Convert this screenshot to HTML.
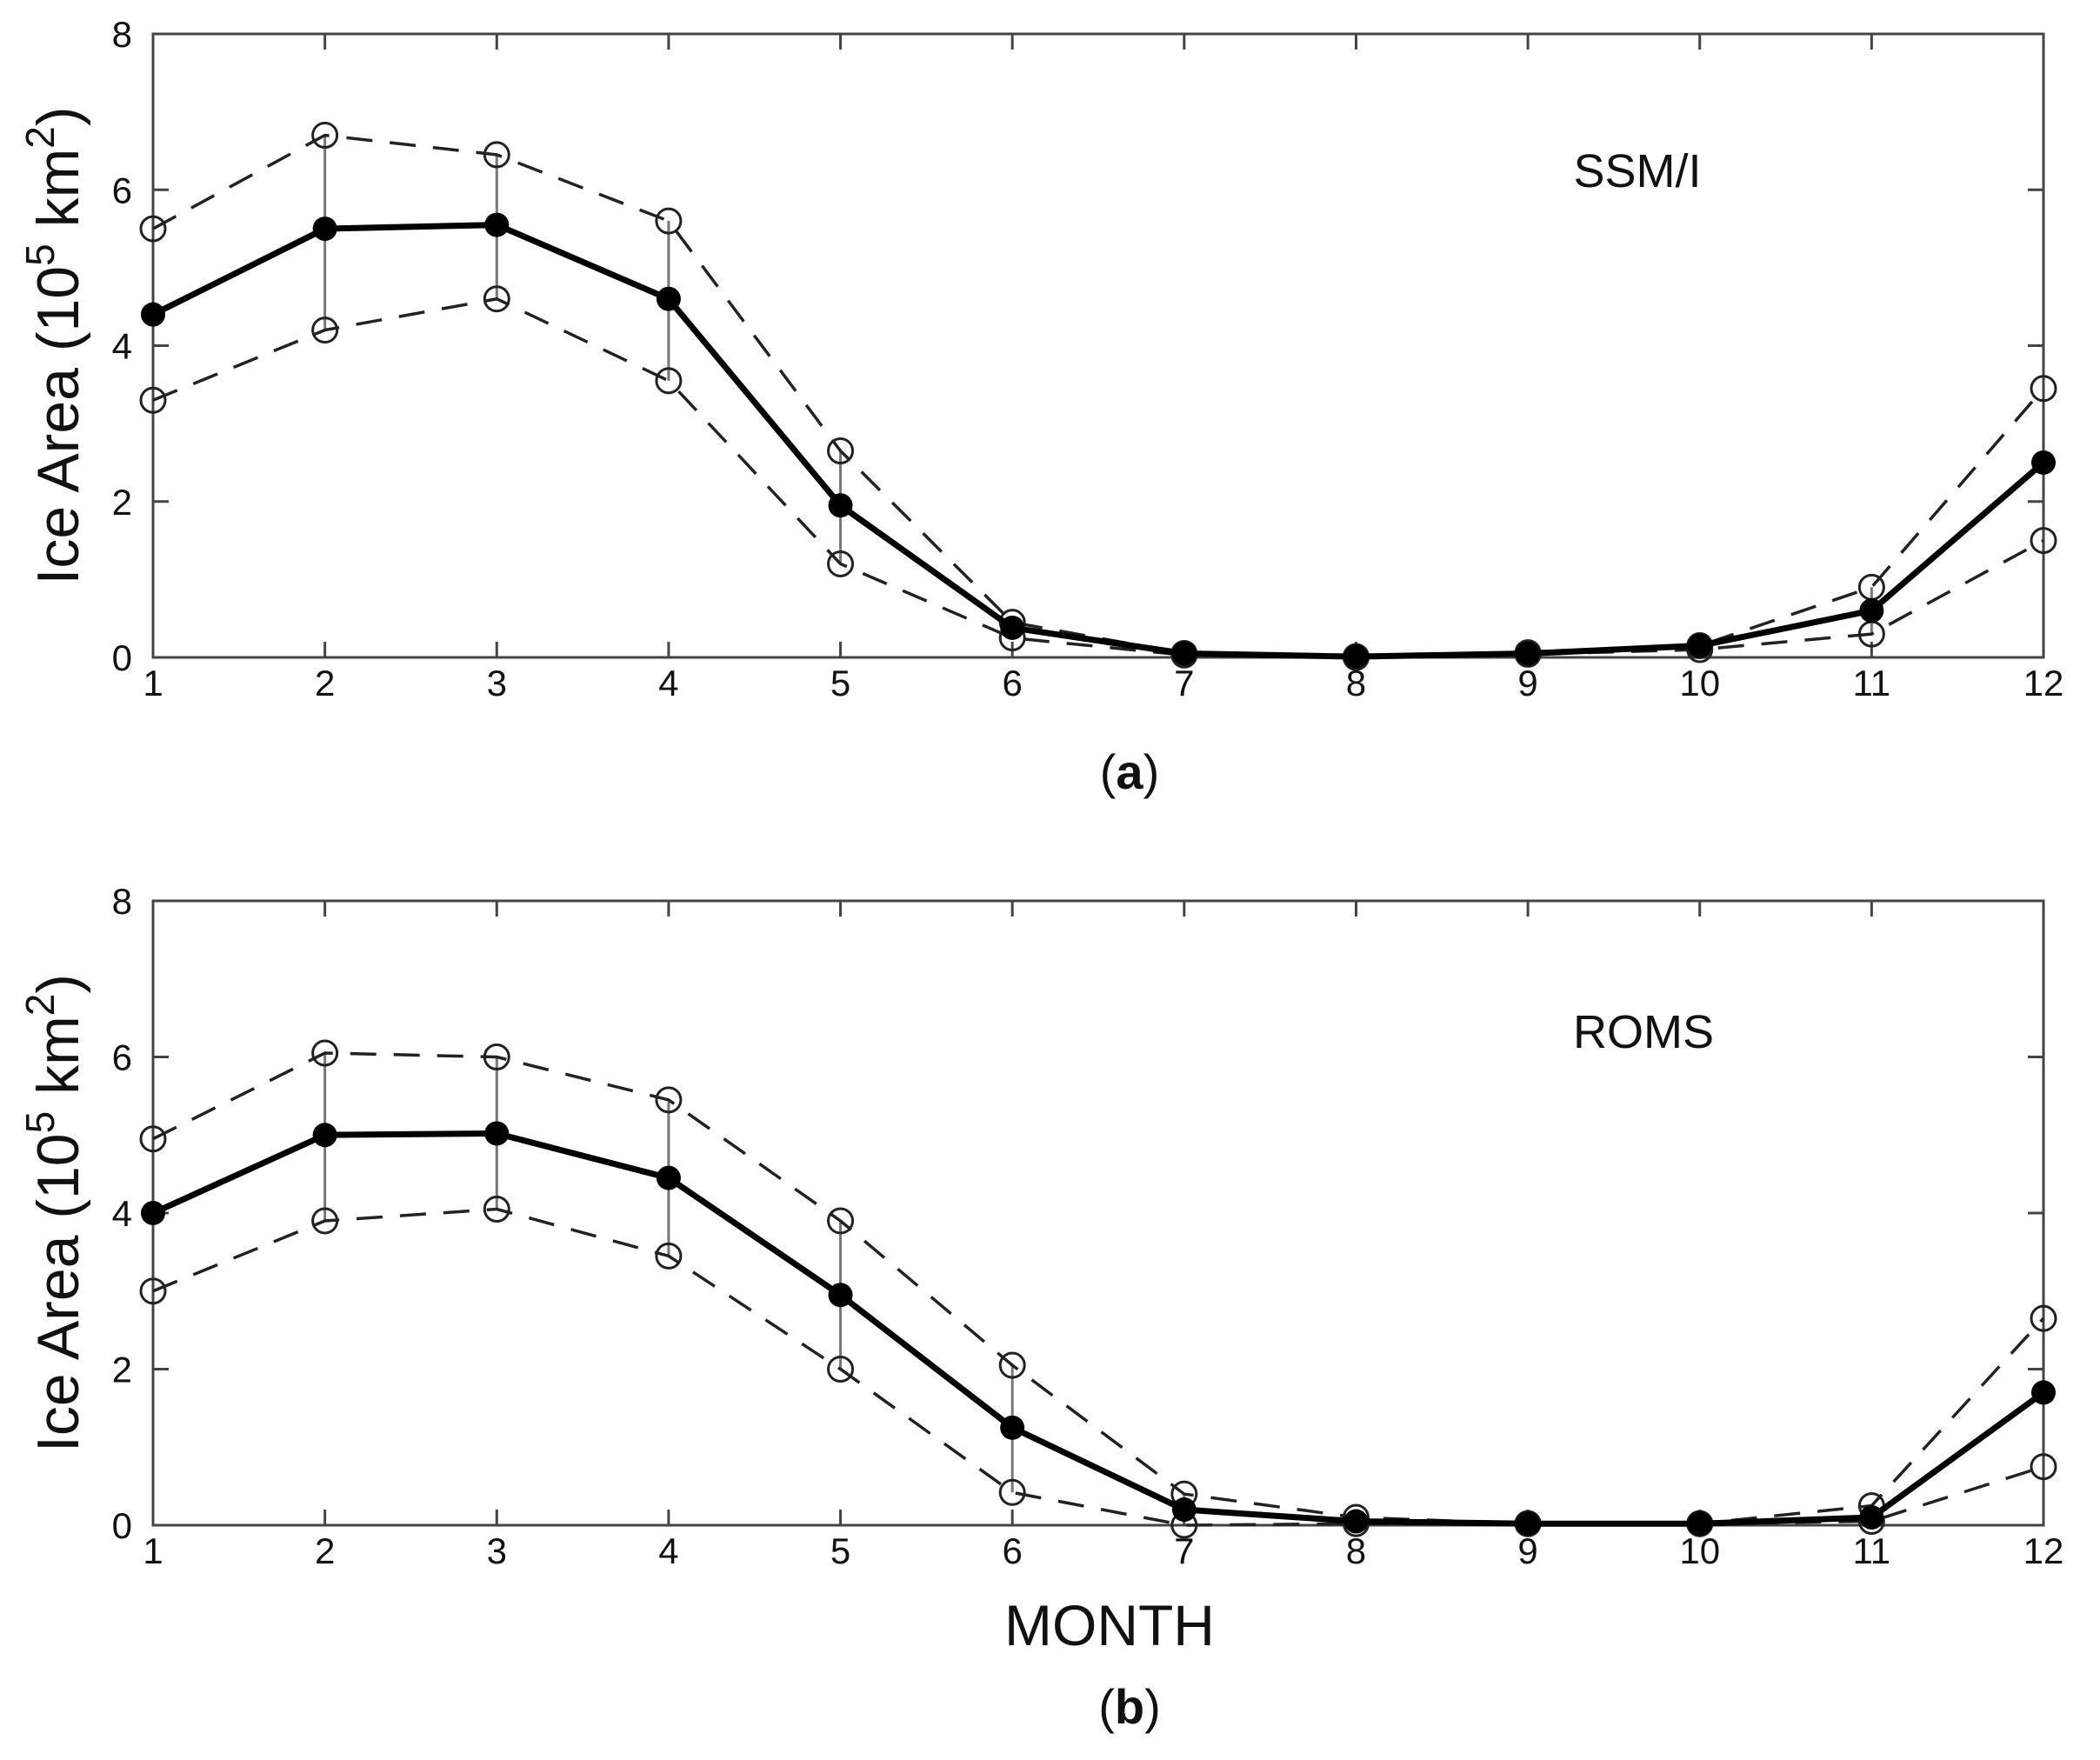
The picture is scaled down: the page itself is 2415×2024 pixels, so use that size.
<!DOCTYPE html>
<html><head><meta charset="utf-8"><style>
body{margin:0;background:#fff}
svg{display:block}
text{font-family:"Liberation Sans",sans-serif;fill:#111}
</style></head><body>
<svg id="chart" width="2415" height="2024" viewBox="0 0 2415 2024" xmlns="http://www.w3.org/2000/svg"></svg>
<script>
const months = [1,2,3,4,5,6,7,8,9,10,11,12];
const yTicks = [0,2,4,6,8];
const ssmiMean  = [4.4,5.5,5.55,4.6,1.95,0.38,0.05,0.01,0.05,0.15,0.6,2.5];
const ssmiUpper = [5.5,6.7,6.45,5.6,2.65,0.45,0.05,0.01,0.06,0.15,0.9,3.45];
const ssmiLower = [3.3,4.2,4.6,3.55,1.2,0.25,0.03,0.0,0.04,0.1,0.3,1.5];
const romsMean  = [4.0,5.0,5.02,4.45,2.95,1.25,0.2,0.05,0.02,0.02,0.1,1.7];
const romsUpper = [4.95,6.05,6.0,5.45,3.9,2.05,0.4,0.1,0.02,0.02,0.25,2.65];
const romsLower = [3.0,3.9,4.05,3.45,2.0,0.42,0.0,0.02,0.02,0.02,0.05,0.75];

const NS="http://www.w3.org/2000/svg";
const svg=document.getElementById('chart');
function mk(tag,attrs,parent){const e=document.createElementNS(NS,tag);for(const k in attrs)e.setAttribute(k,attrs[k]);(parent||svg).appendChild(e);return e;}

function panel(key,top,bottom,label,lblX,lblY,mean,upper,lower,letter,letterY,showMonth){
  const left=176,right=2350;
  const g=mk('g',{});
  
  
  const xs=m=>left+(m-1)*(right-left)/11;
  const ys=v=>bottom-v*(bottom-top)/8;
  months.forEach((m,i)=>{
    const l=mk('line',{x1:xs(m),x2:xs(m),y1:ys(upper[i]),y2:ys(lower[i]),stroke:'#777','stroke-width':3},g);
    
    
  });
  const box=mk('rect',{x:left,y:top,width:right-left,height:bottom-top,fill:'none',stroke:'#444','stroke-width':3},g);
  
  
  months.forEach(m=>{
    mk('line',{x1:xs(m),x2:xs(m),y1:bottom,y2:bottom-18,stroke:'#444','stroke-width':3},g);
    mk('line',{x1:xs(m),x2:xs(m),y1:top,y2:top+18,stroke:'#444','stroke-width':3},g);
    const t=mk('text',{x:xs(m),y:bottom+44,'text-anchor':'middle','font-size':42},g);
    t.textContent=m;
    
    
  });
  yTicks.forEach(v=>{
    mk('line',{x1:left,x2:left+18,y1:ys(v),y2:ys(v),stroke:'#444','stroke-width':3},g);
    mk('line',{x1:right,x2:right-18,y1:ys(v),y2:ys(v),stroke:'#444','stroke-width':3},g);
    const t=mk('text',{x:left-24,y:ys(v)+15,'text-anchor':'end','font-size':42},g);
    t.textContent=v;
    
    
  });
  const yt=mk('text',{transform:`translate(90,${(top+bottom)/2}) rotate(-90)`,'text-anchor':'middle','font-size':68},g);
  yt.innerHTML='Ice Area (10<tspan font-size="46" dy="-28">5</tspan><tspan dy="28"> km</tspan><tspan font-size="46" dy="-28">2</tspan><tspan dy="28">)</tspan>';
  
  
  const pts=a=>a.map((v,i)=>xs(months[i])+','+ys(v)).join(' ');
  [upper,lower].forEach((arr,j)=>{
    const p=mk('polyline',{points:pts(arr),fill:'none',stroke:'#222','stroke-width':3.5,'stroke-dasharray':'30 20'},g);
    
    
    arr.forEach((v,i)=>{
      const c=mk('circle',{cx:xs(months[i]),cy:ys(v),r:14,fill:'none',stroke:'#222','stroke-width':3},g);
      
      
    });
  });
  const ml=mk('polyline',{points:pts(mean),fill:'none',stroke:'#000','stroke-width':7,'stroke-linejoin':'round'},g);
  
  
  mean.forEach((v,i)=>{
    const c=mk('circle',{cx:xs(months[i]),cy:ys(v),r:14,fill:'#000'},g);
    
    
  });
  const lb=mk('text',{x:lblX,y:lblY,'font-size':54,'text-anchor':'middle'},g);
  lb.textContent=label;
  
  
  const lt=mk('text',{x:1299,y:letterY,'font-size':56,'text-anchor':'middle'},g);
  lt.innerHTML='(<tspan font-weight="bold">'+letter+'</tspan>)';
  
  
  if(showMonth){
    const mt=mk('text',{x:1276,y:1892,'font-size':66,'text-anchor':'middle'},g);
    mt.textContent='MONTH';
    
    
  }
}
panel('ssmi',39,756,'SSM/I',1883,215,ssmiMean,ssmiUpper,ssmiLower,'a',907,false);
panel('roms',1036,1754,'ROMS',1890,1205,romsMean,romsUpper,romsLower,'b',1982,true);
</script>
</body></html>
